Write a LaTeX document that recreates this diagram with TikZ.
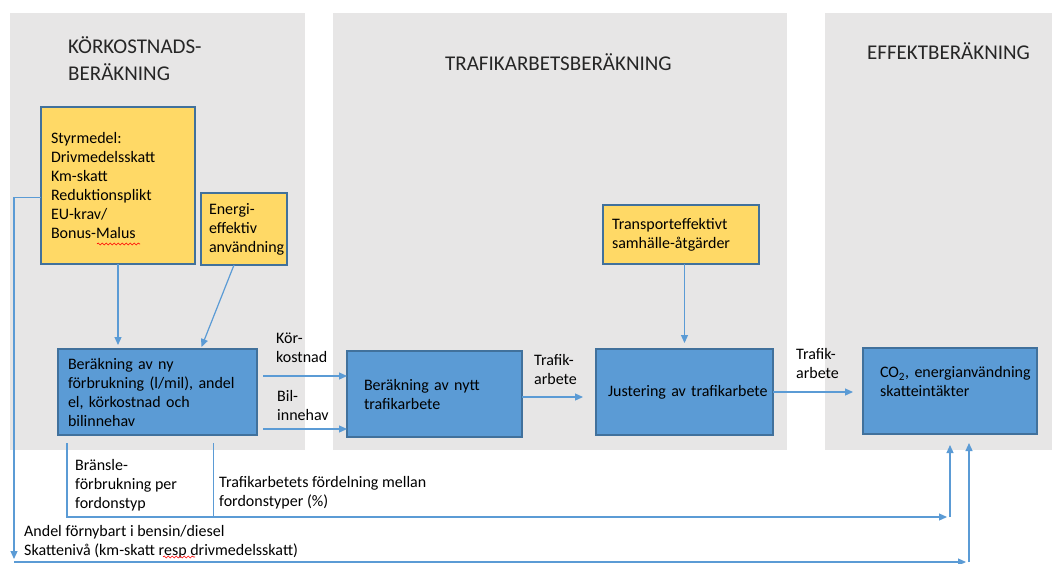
\documentclass[tikz,border=0pt]{standalone}
\usepackage{fontspec}
\setmainfont{Carlito}
\usepackage{tikz}
\usetikzlibrary{arrows.meta,positioning,calc,decorations.pathmorphing}
\definecolor{panelgray}{HTML}{E7E6E6}
\definecolor{notegold}{HTML}{FFD966}
\definecolor{stepblue}{HTML}{5B9BD5}
\definecolor{edgeblue}{HTML}{41719C}
\definecolor{linkblue}{HTML}{5B9BD5}

\begin{document}
\begin{tikzpicture}[x=1pt,y=-1pt,font=\fontsize{16}{19}\selectfont,
  panel/.style={fill=panelgray},
  note/.style={draw=edgeblue,fill=notegold,line width=1.1pt,outer sep=0pt,anchor=north west,align=left,inner ysep=0pt},
  calcbox/.style={draw=edgeblue,fill=stepblue,line width=1.1pt,outer sep=0pt,anchor=north west,align=left,inner ysep=0pt},
  link/.style={draw=linkblue,line width=1.2pt},
  flow/.style={link,-{Triangle[length=8pt,width=7pt]}},
  lbl/.style={anchor=west,align=left,inner sep=0pt},
  heading/.style={lbl,font=\fontsize{21}{27}\selectfont,text=black!85},
  squiggle/.style={draw=red,line width=0.6pt,decorate,decoration={snake,amplitude=1pt,segment length=4pt}}]
\path[use as bounding box] (0,0) rectangle (1052,563);
\foreach \xa/\xb in {10/305,333/787,825/1052}
  \fill[panel] (\xa,13) rectangle (\xb,450);

\node[heading] (kkhead) at (68,59) {KÖRKOSTNADS-\\BERÄKNING};
\node[heading] (tahead) at (445,62) {TRAFIKARBETSBERÄKNING};
\node[heading] (efhead) at (867,51) {EFFEKTBERÄKNING};

\node[note,minimum width=154pt,minimum height=157pt,text width=134pt,inner xsep=10pt] (styr) at (41,107)
  {Styrmedel:\\Drivmedelsskatt\\Km-skatt\\Reduktionsplikt\\EU-krav/\\Bonus-Malus};
\node[note,minimum width=86pt,minimum height=72pt,text width=70pt,inner xsep=8pt] (energi) at (201,193)
  {Energi-\\effektiv\\\mbox{användning}};
\node[note,minimum width=156pt,minimum height=59pt,text width=138pt,inner xsep=9pt] (transp) at (603,205)
  {Transporteffektivt\\samhälle-åtgärder};

\node[calcbox,minimum width=199pt,minimum height=86pt,text width=179pt,inner xsep=10pt] (ny) at (58,349)
  {Beräkning av ny\\förbrukning (l/mil), andel\\el, körkostnad och\\bilinnehav};
\node[calcbox,minimum width=175pt,minimum height=86pt,text width=141pt,inner xsep=17pt] (nytt) at (347,351)
  {Beräkning av nytt\\trafikarbete};
\node[calcbox,minimum width=177pt,minimum height=86pt,text width=153pt,inner xsep=12pt] (just) at (596,349)
  {\mbox{Justering av trafikarbete}};
\node[calcbox,minimum width=174pt,minimum height=86pt,text width=140pt,inner xsep=17pt] (co2) at (863,348)
  {\mbox{CO\textsubscript{2}, energianvändning}\\skatteintäkter\\~};

\node[lbl] (korlbl) at (276,348) {Kör-\\kostnad};
\node[lbl] (billbl) at (277,405) {Bil-\\innehav};
\node[lbl] (tra1lbl) at (534,369) {Trafik-\\arbete};
\node[lbl] (tra2lbl) at (796,363) {Trafik-\\arbete};
\node[lbl] (fuellbl) at (75,485) {Bränsle-\\förbrukning per\\fordonstyp};
\node[lbl] (sharelbl) at (219,493) {Trafikarbetets fördelning mellan\\fordonstyper (\%)};
\node[lbl] (renewlbl) at (24,542) {Andel förnybart i bensin/diesel\\Skattenivå (km-skatt resp drivmedelsskatt)};

\coordinate (mix) at (947,517);
\coordinate (drop) at (14,559);
\coordinate (tax) at (966,562);

\draw[flow] (styr.south) -- ($(styr.south |- ny.north)+(0,-4)$);
\draw[flow] ([xshift=-10pt]energi.south) -- ($(ny.north)+(44,-2)$);
\draw[flow] ([shift={(6,-16)}]ny.east) coordinate (kk) -- (kk -| nytt.west);
\draw[flow] ([shift={(6,37)}]ny.east) coordinate (bi) -- (bi -| nytt.west);
\draw[flow] ([shift={(0,3)}]nytt.east) coordinate (t1) -- ($(t1 -| just.west)+(-13,0)$);
\draw[flow] (transp.south -| just.north) -- ($(just.north)+(0,-6)$);
\draw[flow] (just.east) -- ($(just.east -| co2.west)+(-10,0)$);
\draw[flow] ([shift={(9,8)}]ny.south west) |- (mix);
\draw[link] ($(ny.south)+(56,8)$) -- ($(ny.south |- mix)+(56,0)$);
\draw[flow] (mix -| co2.south) -- ($(co2.south)+(0,11)$);
\draw[flow] ([shift={(0,12)}]styr.west) -| (drop);
\draw[flow] (drop |- tax) -- (tax);
\draw[flow] ($(tax)+(3,0)$) -- ($(co2.south)+(19,9)$);

\draw[squiggle] (97,244) -- (140,244);
\draw[squiggle] (163,557) -- (195,557);
\end{tikzpicture}
\end{document}
